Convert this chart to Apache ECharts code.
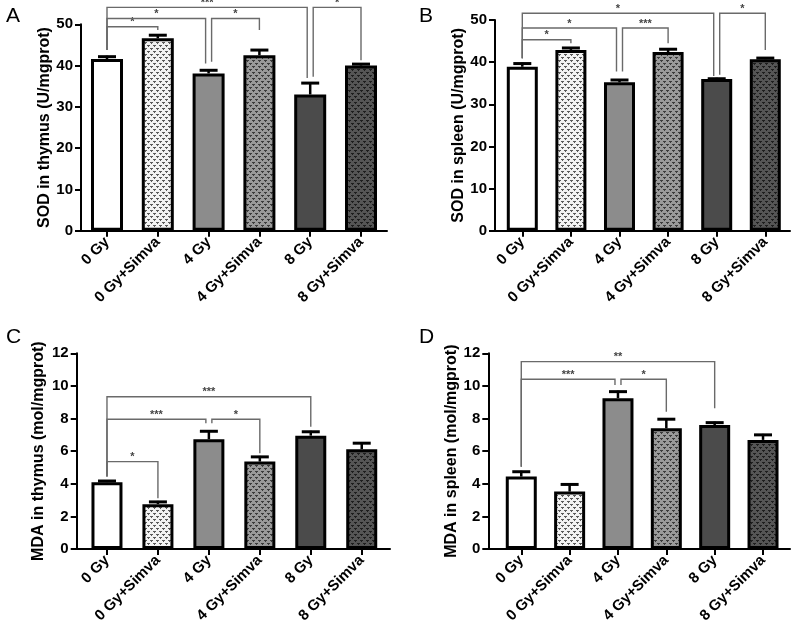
<!DOCTYPE html>
<html><head><meta charset="utf-8">
<script src="https://cdn.jsdelivr.net/npm/echarts@6/dist/echarts.min.js"></script>
<style>html,body{margin:0;padding:0;background:#fff}#c{width:793px;height:627px}</style>
</head><body><div id="c"></div>
<script>
// ---------- data ----------
const categories = ['0 Gy', '0 Gy+Simva', '4 Gy', '4 Gy+Simva', '8 Gy', '8 Gy+Simva'];

const sodThymus    = [41.6, 46.6, 38.1, 42.5, 33.0, 40.0];
const sodThymusErr = [0.8, 1.0, 1.0, 1.5, 3.0, 0.6];
const sodSpleen    = [38.9, 42.9, 35.2, 42.4, 36.0, 40.7];
const sodSpleenErr = [1.0, 0.7, 0.8, 0.9, 0.3, 0.5];
const mdaThymus    = [4.10, 2.75, 6.73, 5.36, 6.95, 6.12];
const mdaThymusErr = [0.13, 0.20, 0.55, 0.35, 0.30, 0.43];
const mdaSpleen    = [4.44, 3.52, 9.25, 7.40, 7.60, 6.69];
const mdaSpleenErr = [0.36, 0.50, 0.46, 0.62, 0.21, 0.37];

// significance brackets: [fromIndex, toIndex, level, fromLegBottom, toLegBottom]
const sigA = [[0,1,49.4,43.75,48.6],[0,2,51.4,43.75,40.5],[0,4,54.1,43.75,37.0],[2,3,51.4,40.9,48.6],[4,5,54.1,37.3,41.3]];
const sigALabels = ['*','*','***','*','*'];
const sigB = [[0,1,45.3,40.95,44.5],[0,2,48.1,40.95,37.8],[0,4,51.6,40.95,36.7],[2,3,48.1,37.8,44.5],[4,5,51.6,37.0,42.9]];
const sigBLabels = ['*','*','*','***','*'];
const sigC = [[0,1,5.36,4.44,3.11],[0,2,7.96,4.44,7.71],[0,4,9.34,4.44,7.5],[2,3,7.96,7.71,5.87]];
const sigCLabels = ['*','***','***','*'];
const sigD = [[0,2,10.41,5.05,10.06],[0,4,11.49,5.05,8.63],[2,3,10.41,10.06,8.42]];
const sigDLabels = ['***','**','*'];

const yNames = ['SOD in thymus (U/mgprot)', 'SOD in spleen (U/mgprot)', 'MDA in thymus (mol/mgprot)', 'MDA in spleen (mol/mgprot)'];
const panelLetters = ['A', 'B', 'C', 'D'];
const yMax = [50, 50, 12, 12];
const yInterval = [10, 10, 2, 2];

// ---------- styles ----------
const FONT = '"Liberation Sans", Arial, Helvetica, sans-serif';
function makePattern(bg, fg) {
  const c = document.createElement('canvas');
  c.width = 6; c.height = 6;
  const g = c.getContext('2d');
  g.fillStyle = bg; g.fillRect(0, 0, 6, 6);
  g.fillStyle = fg;
  [[0,0],[3,3]].forEach(([x,y]) => {
    g.fillRect(x, y, 3, 1);
    g.fillRect(x + 1, y + 1, 1, 1);
  });
  return { image: c, repeat: 'repeat' };
}
const barFills = ['#ffffff', makePattern('#f2f2f2', '#5a5a5a'), '#8c8c8c',
                  makePattern('#9a9a9a', '#3c3c3c'), '#4b4b4b', makePattern('#555555', '#1e1e1e')];

const layout = [
  { main: {left: 81.6, top: 24.3, width: 304.8, height: 206.4}, line: {left: 81, width: 306}, barWidth: 32, nameGap: 25 },
  { main: {left: 498, top: 20, width: 291.6, height: 210.7}, line: {left: 495, width: 295}, barWidth: 31, nameGap: 27 },
  { main: {left: 81.5, top: 353.3, width: 305.7, height: 195.7}, line: {left: 76.7, width: 313.3}, barWidth: 31, nameGap: 30 },
  { main: {left: 497.1, top: 353.3, width: 290.1, height: 195.7}, line: {left: 488.3, width: 301.7}, barWidth: 31, nameGap: 21 }
];
const panelValues = [sodThymus, sodSpleen, mdaThymus, mdaSpleen];
const panelErrors = [sodThymusErr, sodSpleenErr, mdaThymusErr, mdaSpleenErr];
const panelSig = [sigA, sigB, sigC, sigD];
const panelSigLabels = [sigALabels, sigBLabels, sigCLabels, sigDLabels];

const grid = [], xAxis = [], yAxis = [], series = [], title = [];
layout.forEach((L, p) => {
  const gMain = 2 * p, gLine = 2 * p + 1;
  grid.push(Object.assign({}, L.main));
  grid.push({ left: L.line.left, width: L.line.width, top: L.main.top, height: L.main.height });

  xAxis.push({
    type: 'category', gridIndex: gMain, data: categories,
    axisLine: { show: false },
    axisTick: { show: true, alignWithLabel: true, length: 6, lineStyle: { color: '#000', width: 2 } },
    axisLabel: { interval: 0, rotate: 45, margin: 9, color: '#000', fontFamily: FONT, fontWeight: 'bold', fontSize: 15 },
    splitLine: { show: false }
  });
  xAxis.push({
    type: 'value', gridIndex: gLine, min: 0, max: 1,
    axisLine: { show: true, onZero: false, lineStyle: { color: '#000', width: 2 } },
    axisTick: { show: false }, axisLabel: { show: false }, splitLine: { show: false }
  });
  yAxis.push({ type: 'value', gridIndex: gMain, min: 0, max: yMax[p], show: false });
  yAxis.push({
    type: 'value', gridIndex: gLine, min: 0, max: yMax[p], interval: yInterval[p],
    name: yNames[p], nameLocation: 'middle', nameGap: L.nameGap,
    nameTextStyle: { color: '#000', fontFamily: FONT, fontWeight: 'bold', fontSize: 16 },
    axisLine: { show: true, lineStyle: { color: '#000', width: 2 } },
    axisTick: { show: true, length: 6, lineStyle: { color: '#000', width: 2 } },
    axisLabel: { color: '#000', fontFamily: FONT, fontWeight: 'bold', fontSize: 15, margin: 8 },
    splitLine: { show: false }
  });

  series.push({
    type: 'bar', xAxisIndex: gMain, yAxisIndex: gMain, barWidth: L.barWidth,
    data: panelValues[p].map((v, i) => ({ value: v, itemStyle: { color: barFills[i] } })),
    itemStyle: { borderColor: '#000', borderWidth: 3 },
    silent: true, animation: false
  });

  const vals = panelValues[p], errs = panelErrors[p];
  series.push({
    type: 'custom', xAxisIndex: gMain, yAxisIndex: gMain, z: 5, animation: false, silent: true,
    data: vals.map((v, i) => [i, v, errs[i]]),
    renderItem: function (params, api) {
      const i = api.value(0), m = api.value(1), e = api.value(2);
      const base = api.coord([i, m]);
      const top = api.coord([i, m + e]);
      return { type: 'group', children: [
        { type: 'line', shape: { x1: base[0], y1: base[1], x2: top[0], y2: top[1] }, style: { stroke: '#000', lineWidth: 2.5 } },
        { type: 'line', shape: { x1: top[0] - 9, y1: top[1] + 1, x2: top[0] + 9, y2: top[1] + 1 }, style: { stroke: '#000', lineWidth: 3 } }
      ]};
    }
  });

  const sig = panelSig[p], labels = panelSigLabels[p];
  const starts = new Set(sig.map(s => s[0]));
  const ends = new Set(sig.map(s => s[1]));
  series.push({
    type: 'custom', xAxisIndex: gMain, yAxisIndex: gMain, z: 6, clip: false, animation: false, silent: true,
    data: sig,
    renderItem: function (params, api) {
      const a = api.value(0), b = api.value(1), lvl = api.value(2), fb = api.value(3), tb = api.value(4);
      const offA = ends.has(a) ? 3 : 0;
      const offB = starts.has(b) ? -3 : 0;
      const pa = api.coord([a, fb]), pb = api.coord([b, tb]), pl = api.coord([a, lvl]);
      const xa = pa[0] + offA, xb = pb[0] + offB, y = pl[1];
      return { type: 'group', children: [
        { type: 'polyline', shape: { points: [[xa, pa[1]], [xa, y], [xb, y], [xb, pb[1]]] }, style: { stroke: '#6a6a6a', lineWidth: 1.4, fill: null } },
        { type: 'text', style: { x: (xa + xb) / 2, y: y + 1, text: labels[params.dataIndex], textAlign: 'center', textVerticalAlign: 'bottom', fill: '#444', font: 'bold 11px ' + FONT } }
      ]};
    }
  });

  title.push({ text: panelLetters[p], left: p % 2 ? 414 : 1, top: p < 2 ? 1 : 322,
    textStyle: { color: '#000', fontFamily: FONT, fontWeight: 'normal', fontSize: 21 } });
});

const chart = echarts.init(document.getElementById('c'), null, { renderer: 'canvas' });
chart.setOption({ backgroundColor: '#fff', animation: false, title, grid, xAxis, yAxis, series });
</script>
</body></html>
